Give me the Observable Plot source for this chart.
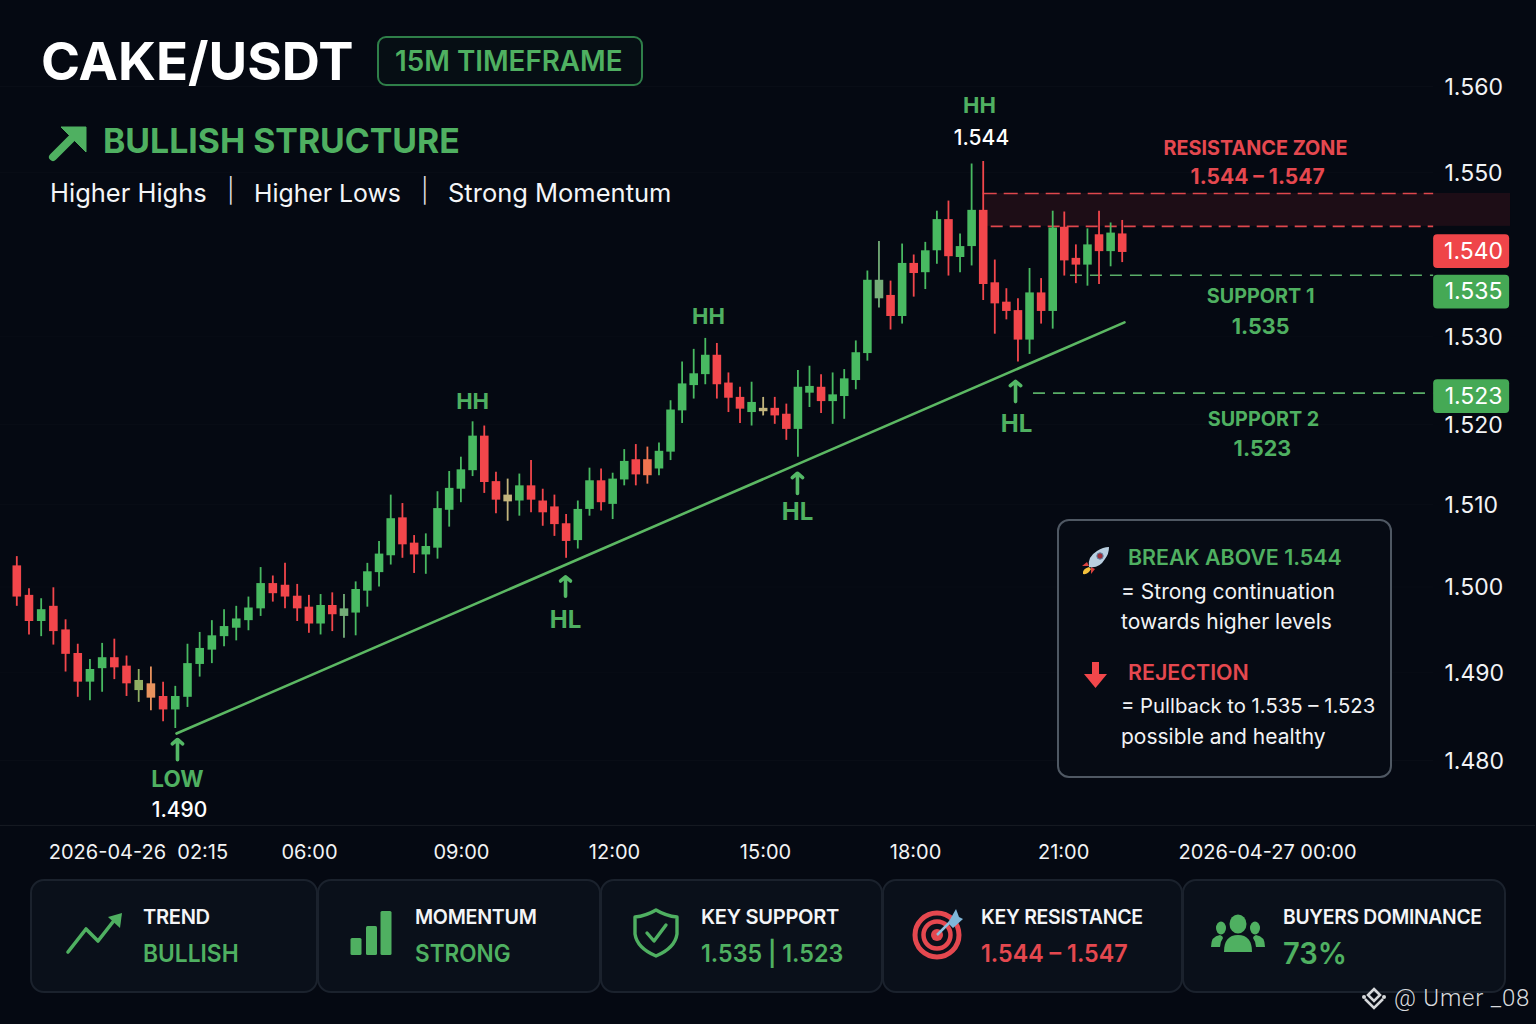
<!DOCTYPE html>
<html>
<head>
<meta charset="utf-8">
<script src="https://cdn.jsdelivr.net/npm/d3@7"></script>
<script src="https://cdn.jsdelivr.net/npm/@observablehq/plot@0.6"></script>
<style>
html,body{margin:0;padding:0;width:1536px;height:1024px;overflow:hidden;background:#050912;font-family:Inter,"Noto Sans",sans-serif;color:#fff}
#stage{position:relative;width:1536px;height:1024px}
#chart{position:absolute;left:0;top:0}
.t{position:absolute;white-space:nowrap;transform:translateY(-50%);transform-origin:left center;line-height:1}
.abs{position:absolute;box-sizing:border-box}
.card{position:absolute;top:879px;height:114px;box-sizing:border-box;background:#0a101a;border:2px solid #1b222d;border-radius:14px}
svg.icon{position:absolute;overflow:visible}
</style>
</head>
<body>
<div id="stage"><div id="chart"></div></div>
<script>
// ---- candle values (price) ----
const opens = [1.5031,1.4996,1.4965,1.4983,1.4955,1.4927,1.4893,1.4909,1.4922,1.4912,
1.4883,1.4891,1.4876,1.4860,1.4875,1.4914,1.4931,1.4947,1.4957,1.4966,
1.4980,1.5010,1.5008,1.4995,1.4982,1.4962,1.4984,1.4971,1.4975,1.5001,
1.5023,1.5043,1.5088,1.5058,1.5044,1.5052,1.5097,1.5122,1.5144,1.5185,
1.5131,1.5107,1.5108,1.5126,1.5108,1.5101,1.5081,1.5061,1.5098,1.5132,
1.5104,1.5133,1.5157,1.5157,1.5146,1.5166,1.5215,1.5245,1.5258,1.5281,
1.5248,1.5231,1.5213,1.5214,1.5218,1.5211,1.5193,1.5236,1.5243,1.5226,
1.5232,1.5251,1.5283,1.5348,1.5352,1.5327,1.5390,1.5379,1.5405,1.5442,
1.5397,1.5410,1.5453,1.5367,1.5344,1.5334,1.5299,1.5355,1.5333,1.5433,
1.5396,1.5388,1.5424,1.5404,1.5425];
const highs = [1.5042,1.5004,1.4992,1.5005,1.4967,1.4938,1.4920,1.4939,1.4944,1.4924,
1.4908,1.4911,1.4893,1.4888,1.4938,1.4952,1.4966,1.4979,1.4983,1.4994,
1.5029,1.5019,1.5034,1.5009,1.4996,1.4997,1.4999,1.4997,1.5012,1.5034,
1.5060,1.5115,1.5105,1.5067,1.5069,1.5119,1.5143,1.5160,1.5202,1.5197,
1.5142,1.5134,1.5140,1.5156,1.5122,1.5115,1.5092,1.5108,1.5147,1.5146,
1.5141,1.5169,1.5175,1.5172,1.5177,1.5227,1.5273,1.5288,1.5301,1.5295,
1.5260,1.5243,1.5249,1.5231,1.5231,1.5223,1.5263,1.5268,1.5258,1.5260,
1.5264,1.5298,1.5381,1.5416,1.5369,1.5413,1.5400,1.5415,1.5452,1.5464,
1.5425,1.5508,1.5511,1.5394,1.5360,1.5348,1.5384,1.5372,1.5452,1.5451,
1.5412,1.5431,1.5452,1.5438,1.5441];
const lows = [1.4983,1.4949,1.4947,1.4937,1.4905,1.4875,1.4871,1.4881,1.4896,1.4876,
1.4869,1.4859,1.4846,1.4838,1.4863,1.4899,1.4915,1.4935,1.4942,1.4954,
1.4971,1.4988,1.4980,1.4965,1.4951,1.4949,1.4953,1.4945,1.4948,1.4982,
1.5006,1.5032,1.5040,1.5022,1.5021,1.5039,1.5077,1.5106,1.5137,1.5117,
1.5093,1.5084,1.5090,1.5094,1.5078,1.5066,1.5040,1.5051,1.5090,1.5096,
1.5086,1.5126,1.5126,1.5128,1.5138,1.5156,1.5200,1.5229,1.5246,1.5229,
1.5213,1.5200,1.5197,1.5209,1.5199,1.5180,1.5160,1.5219,1.5212,1.5199,
1.5205,1.5240,1.5274,1.5337,1.5311,1.5318,1.5350,1.5359,1.5389,1.5375,
1.5379,1.5387,1.5346,1.5306,1.5323,1.5273,1.5282,1.5318,1.5312,1.5375,
1.5366,1.5363,1.5365,1.5386,1.5391];
const closes = [1.4994,1.4965,1.4979,1.4953,1.4926,1.4893,1.4908,1.4922,1.4910,1.4891,
1.4895,1.4874,1.4860,1.4876,1.4915,1.4933,1.4948,1.4959,1.4968,1.4981,
1.5010,1.4998,1.4994,1.4980,1.4962,1.4984,1.4973,1.4980,1.5003,1.5024,
1.5045,1.5087,1.5056,1.5044,1.5054,1.5099,1.5123,1.5145,1.5185,1.5130,
1.5109,1.5115,1.5126,1.5109,1.5094,1.5080,1.5060,1.5098,1.5132,1.5106,
1.5134,1.5155,1.5139,1.5138,1.5167,1.5216,1.5247,1.5259,1.5281,1.5246,
1.5230,1.5217,1.5225,1.5218,1.5209,1.5193,1.5243,1.5244,1.5226,1.5234,
1.5253,1.5284,1.5370,1.5370,1.5327,1.5390,1.5378,1.5405,1.5442,1.5398,
1.5410,1.5453,1.5365,1.5342,1.5333,1.5299,1.5355,1.5333,1.5432,1.5393,
1.5388,1.5412,1.5404,1.5426,1.5403];
// u up, d down; the others are the washed-out candles of the picture
const kindList = ("d d u d d d u u d d a b d u u u u u u u u d d d d u d c u u "+
 "u u d d u u u u u d d e u d d d d u u d u u d f u u u u u d "+
 "d d u e d d u u d u u u u c d u d u u d u u d d d d u d u d "+
 "d u d u d").split(" ");
const kindColor = {u:"#48b961",d:"#f2464b",a:"#8fae62",b:"#e8935e",c:"#74ad78",e:"#c2b47c",f:"#ee7450"};

// y-axis: printed labels and where on the price scale each one sits
const yTickLabels = ["1.560","1.550","1.530","1.520","1.510","1.500","1.490","1.480"];
const yTickAt     = [1.5600,1.5498,1.5303,1.5199,1.5104,1.5006,1.4904,1.4800];
// x-axis: printed labels and the candle index under each
const xTickLabels = ["2026-04-26\u00a0 02:15","06:00","09:00","12:00","15:00","18:00","21:00","2026-04-27\u00a000:00"];
const xTickAt     = [9.98,24.05,37.05,50.16,63.2,76.16,88.94,106.55];

// price badges
const badgeLabels = ["1.540","1.535","1.523"];
const badgeFills  = ["#ef4549","#45a955","#45a955"];
const badgeLo     = [1.5384,1.5336,1.5212];
const badgeHi     = [1.5424,1.5376,1.5252];
const badgeMid    = [1.5404,1.5357,1.5232];

// levels
const zoneLow = 1.5434, zoneHigh = 1.5473, support1 = 1.5376, support2 = 1.5236;
// trend line: candle index, price
const trendX = [13.1,94.2], trendY = [1.4832,1.5320];

// structure labels
const swingLabels = ["HH","HH","HH","HL","HL","HL","LOW"];
const swingX = [38,58.28,81.68,45.95,65.96,84.88,13.18];
const swingY = [1.5226,1.5326,1.5577,1.4966,1.5094,1.5199,1.4777];
const swingSize = [22,22,22,24,24,24,22.5];
const noteLabels = ["1.544","1.490"];
const noteX = [81.85,13.35];
const noteY = [1.5538,1.4741];
// arrows below swing lows: index, arrow tail price, arrow tip price
const arrowX = [13.18,45.95,65.96,84.79];
const arrowTail = [1.4801,1.4995,1.5117,1.5226];
const arrowTip  = [1.4825,1.5018,1.5141,1.5250];

const levelLabels = ["RESISTANCE ZONE","1.544 – 1.547","SUPPORT 1","1.535","SUPPORT 2","1.523"];
const levelX = [105.51,105.69,105.95,105.95,106.2,106.1];
const levelY = [1.5526,1.5492,1.5350,1.5315,1.5205,1.5170];
const levelColor = ["#e5484f","#e5484f","#4fb061","#4fb061","#4fb061","#4fb061"];
const levelSize = [19.8,21,19.8,21.5,19.8,21.5];

const candles = opens.map((o,i)=>({i,o,h:highs[i],l:lows[i],c:closes[i],k:kindList[i]}));
const GREEN="#4fb061", RED="#e5484f";
const font = 'Inter,"Noto Sans",sans-serif';
const xFmt = new Map(xTickAt.map((v,i)=>[v,xTickLabels[i]]));
const yFmt = new Map(yTickAt.map((v,i)=>[v,yTickLabels[i]]));

const plot = Plot.plot({
  width:1536, height:872, marginTop:0, marginLeft:0, marginRight:92, marginBottom:28,
  style:{background:"transparent",fontFamily:font,color:"#fff",overflow:"visible"},
  x:{type:"linear",domain:[0,23,48,71,94], range:[16.3,296.7,589,855.3,1121.7]},
  y:{type:"linear",domain:[1.48,1.56], range:[760,86]},
  marks:[
    Plot.ruleY(yTickAt,{x1:-1.34,x2:120.9,stroke:"#fff",strokeOpacity:0.018}),
    Plot.ruleY([1.4723],{x1:-1.34,x2:129.7,stroke:"#fff",strokeOpacity:0.08}),
    // resistance zone and levels
    Plot.rect([0],{x1:82,x2:127.53,y1:zoneLow,y2:zoneHigh,fill:"#b42a33",fillOpacity:0.14}),
    Plot.ruleY([zoneHigh],{x1:82,x2:120.89,stroke:"#df474d",strokeWidth:1.6,strokeDasharray:"14 7"}),
    Plot.ruleY([zoneLow],{x1:82.69,x2:120.89,stroke:"#df474d",strokeWidth:1.6,strokeDasharray:"12 7"}),
    Plot.ruleY([support1],{x1:89.53,x2:120.89,stroke:"#5aae68",strokeWidth:1.6,strokeDasharray:"12 8"}),
    Plot.ruleY([support2],{x1:86.34,x2:120.89,stroke:"#5aae68",strokeWidth:1.6,strokeDasharray:"12 8"}),
    // candles
    Plot.ruleX(candles,{x:"i",y1:"l",y2:"h",stroke:d=>kindColor[d.k],strokeWidth:1.8}),
    Plot.ruleX(candles,{x:"i",y1:"o",y2:"c",stroke:d=>kindColor[d.k],strokeWidth:8.6}),
    // trend line
    Plot.line(trendX.map((x,i)=>({x,y:trendY[i]})),{x:"x",y:"y",stroke:"#5cb863",strokeWidth:2.6}),
    // swing arrows
    Plot.arrow(arrowX.map((x,i)=>({x,a:arrowTail[i],b:arrowTip[i]})),{x:"x",y1:"a",y2:"b",stroke:"#54b866",strokeWidth:3.6,headLength:14,headAngle:100}),
    // labels
    Plot.text(swingLabels,{x:(d,i)=>swingX[i],y:(d,i)=>swingY[i],text:d=>d,fill:GREEN,fontWeight:700,fontSize:(d,i)=>swingSize[i]}),
    Plot.text(noteLabels,{x:(d,i)=>noteX[i],y:(d,i)=>noteY[i],text:d=>d,fill:"#fff",fontWeight:500,fontSize:21}),
    Plot.text(levelLabels,{x:(d,i)=>levelX[i],y:(d,i)=>levelY[i],text:d=>d,fill:(d,i)=>levelColor[i],fontWeight:700,fontSize:(d,i)=>levelSize[i]}),
    // axes
    Plot.axisY(yTickAt,{anchor:"right",tickSize:0,tickPadding:0,tickFormat:d=>yFmt.get(d),fontSize:23,fontVariant:"normal",label:null,fill:"#f2f3f5",dy:1}),
    Plot.axisX(xTickAt,{anchor:"bottom",tickSize:0,tickPadding:0,tickFormat:d=>xFmt.get(d),fontSize:20,fontVariant:"normal",label:null,fill:"#f2f3f5"}),
    // badges
    Plot.rect(badgeLabels,{x1:120.89,x2:127.45,y1:(d,i)=>badgeLo[i],y2:(d,i)=>badgeHi[i],fill:(d,i)=>badgeFills[i],rx:4}),
    Plot.text(badgeLabels,{x:124.34,y:(d,i)=>badgeMid[i],text:d=>d,fill:"#fff",fontSize:23})
  ]
});
document.getElementById("chart").appendChild(plot);

// ---- page furniture: header, note box, summary cards ----
const stage = document.getElementById("stage");
function el(html){const d=document.createElement("div");d.innerHTML=html;while(d.firstChild)stage.appendChild(d.firstChild);}
function t(text,x,y,size,color,weight,extra=""){el(`<div class="t" style="left:${x}px;top:${y}px;font-size:${size}px;color:${color};font-weight:${weight};${extra}">${text}</div>`);}
function icon(x,y,w,h,vb,body){el(`<svg class="icon" style="left:${x}px;top:${y}px" width="${w}" height="${h}" viewBox="${vb}">${body}</svg>`);}
const sx = k => `transform:translateY(-50%) scaleX(${k});`;

t("CAKE/USDT",41,61,52.8,"#fff",700);
el(`<div class="abs" style="left:377px;top:36px;width:266px;height:50px;border:2px solid #2f7f49;border-radius:9px;background:#060e14"></div>`);
t("15M TIMEFRAME",395,62,27.8,GREEN,600);
icon(50,124,37,37,"0 0 37 37",`<path d="M3 33 L24 12" stroke="${GREEN}" stroke-width="8" stroke-linecap="round"/><path d="M11 3 H36 V28 Z" fill="${GREEN}" stroke="${GREEN}" stroke-linejoin="round" stroke-width="1"/>`);
t("BULLISH STRUCTURE",103,141,33.8,GREEN,700);
t("Higher Highs",50,193,25.5,"#f4f5f7",400);
t("|",227,191,24,"#e2e4e7",300);
t("Higher Lows",254,193,24.8,"#f4f5f7",400);
t("|",421,191,24,"#e2e4e7",300);
t("Strong Momentum",448,193,25.5,"#f4f5f7",400);

el(`<div class="abs" style="left:1057px;top:519px;width:335px;height:259px;border:2px solid #4f5863;border-radius:12px;background:#060b14"></div>`);
icon(1081,545,30,30,"0 0 30 30",`<path d="M6 17 L1 21 L8 21 Z" fill="#d9423f"/><path d="M14 24 L10 29 L10 22 Z" fill="#d9423f"/><path d="M8 22 Q1 24 2 29 Q7 30 10 24 Z" fill="#f4c23c"/><path d="M8 22 Q6 12 16 6 Q22 2 28 2 Q28 9 24 14 Q18 24 8 22 Z" fill="#b9cfe0"/><circle cx="19" cy="11" r="3.2" fill="#9c2f3a" stroke="#5e87a8"/>`);
t("BREAK ABOVE 1.544",1128,558,21.4,GREEN,600);
t("= Strong continuation",1121,591,21,"#f2f3f5",400);
t("towards higher levels",1121,621,21,"#f2f3f5",400);
icon(1083,661,25,28,"0 0 25 28",`<path d="M12.5 1 V15" stroke="#f2474b" stroke-width="7"/><path d="M1 13 H24 L12.5 27 Z" fill="#f2474b"/>`);
t("REJECTION",1128,673,21.4,RED,600);
t("= Pullback to 1.535 – 1.523",1121,706,20.3,"#f2f3f5",400);
t("possible and healthy",1121,736,21,"#f2f3f5",400);

const cardEdges = [[30,317],[317,600],[600,882],[882,1182],[1182,1505]];
cardEdges.forEach(([a,b])=>el(`<div class="card" style="left:${a}px;width:${b-a+1}px"></div>`));
const cardTitles = ["TREND","MOMENTUM","KEY SUPPORT","KEY RESISTANCE","BUYERS DOMINANCE"];
const cardValues = ["BULLISH","STRONG","1.535 | 1.523","1.544 – 1.547","73%"];
const cardTextX  = [143,415,701,981,1283];
const cardColors = [GREEN,GREEN,GREEN,RED,GREEN];
const cardValueSize = [24.5,24.5,24.5,24.5,30];
const cardValueSquash = [0.93,0.92,0.95,0.95,0.97];
const cardTitleSquash = [0.98,0.96,0.98,0.95,0.94];
cardTitles.forEach((s,i)=>{
  t(s,cardTextX[i],917,20.5,"#f4f5f7",600,"letter-spacing:-0.3px;"+sx(cardTitleSquash[i]));
  t(cardValues[i],cardTextX[i],953,cardValueSize[i],cardColors[i],600,sx(cardValueSquash[i]));
});
icon(66,912,58,42,"0 0 58 42",`<path d="M2 40 L20 17 L32 29 L50 6" fill="none" stroke="${GREEN}" stroke-width="3.6" stroke-linecap="round" stroke-linejoin="round"/><path d="M42 5 L56 1 L54 16 Z" fill="${GREEN}"/>`);
icon(350,911,42,45,"0 0 42 45",`<rect x="0.5" y="27" width="11" height="17" rx="1.5" fill="${GREEN}"/><rect x="16" y="15" width="11" height="29" rx="1.5" fill="${GREEN}"/><rect x="30.5" y="0" width="11" height="44" rx="1.5" fill="${GREEN}"/>`);
icon(633,908,46,50,"0 0 46 50",`<path d="M23 2 Q33 8 44 9 V26 Q42 40 23 48 Q4 40 2 26 V9 Q13 8 23 2 Z" fill="none" stroke="${GREEN}" stroke-width="3.4" stroke-linejoin="round"/><path d="M14 25 L21 33 L33 17" fill="none" stroke="${GREEN}" stroke-width="3.4" stroke-linecap="round" stroke-linejoin="round"/>`);
icon(912,908,52,52,"0 0 52 52",`<circle cx="25" cy="27" r="22" fill="none" stroke="#e5484f" stroke-width="5"/><circle cx="25" cy="27" r="13.5" fill="none" stroke="#e5484f" stroke-width="4.5"/><circle cx="25" cy="27" r="6" fill="#e5484f"/><path d="M25 27 L40 12" stroke="#8fc0de" stroke-width="2.5"/><path d="M36 15 L44 1 L47 9 L51 11 L41 20 Z" fill="#7fb7d8"/>`);
icon(1211,914,55,40,"0 0 55 40",`<ellipse cx="27" cy="10" rx="8.5" ry="9.5" fill="${GREEN}"/><ellipse cx="10" cy="14" rx="5" ry="6.5" fill="${GREEN}"/><ellipse cx="44" cy="14" rx="5" ry="6.5" fill="${GREEN}"/><path d="M13 38 Q13 21 27 21 Q41 21 41 38 Z" fill="${GREEN}"/><path d="M0 33 Q0 22 9 21 Q12 22 12 24 Q9 28 9 33 Z" fill="${GREEN}"/><path d="M54 33 Q54 22 45 21 Q42 22 42 24 Q45 28 45 33 Z" fill="${GREEN}"/>`);
icon(1361,985,26,28,"0 0 26 28",`<g fill="none" stroke="#d5d7da" stroke-width="2.6"><path d="M13 2 L19 8 L13 14 L7 8 Z" transform="translate(0 2)"/><path d="M4 14 L13 23 L22 14"/></g><circle cx="3" cy="12" r="2" fill="#d5d7da"/><circle cx="23" cy="12" r="2" fill="#d5d7da"/>`);
t("@ Umer _08",1394,998,24,"#d9dbde",300,"font-family:Roboto,Inter,sans-serif;letter-spacing:0.8px;");
</script>
</body>
</html>
